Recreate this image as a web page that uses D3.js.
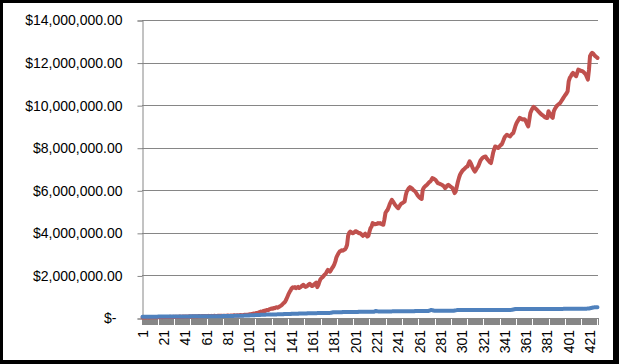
<!DOCTYPE html>
<html>
<head>
<meta charset="utf-8">
<script src="https://cdn.jsdelivr.net/npm/d3@7"></script>
<style>
    html, body { margin: 0; padding: 0; background: #000; }
    svg { display: block; }
</style>
</head>
<body>
<div id="visualization"></div>
<script>
// Categories 1..428
const categories = d3.range(1, 429);

// Red series, in millions of dollars
const redMillions = [
    0.02,0.02,0.03,0.02,0.03,0.03,0.02,0.03,0.04,0.03,
    0.03,0.04,0.03,0.04,0.04,0.03,0.04,0.05,0.04,0.04,
    0.05,0.04,0.05,0.05,0.04,0.05,0.06,0.05,0.05,0.06,
    0.05,0.06,0.06,0.05,0.06,0.07,0.06,0.06,0.07,0.06,
    0.07,0.07,0.06,0.07,0.08,0.07,0.07,0.08,0.07,0.08,
    0.08,0.07,0.08,0.09,0.08,0.08,0.09,0.08,0.09,0.09,
    0.08,0.09,0.10,0.09,0.09,0.10,0.09,0.10,0.10,0.09,
    0.10,0.11,0.10,0.10,0.11,0.10,0.11,0.11,0.10,0.11,
    0.12,0.11,0.11,0.12,0.11,0.12,0.13,0.12,0.12,0.13,
    0.12,0.13,0.14,0.13,0.13,0.14,0.15,0.14,0.15,0.16,
    0.16,0.18,0.17,0.19,0.21,0.20,0.22,0.24,0.23,0.26,
    0.28,0.30,0.29,0.32,0.34,0.33,0.36,0.38,0.37,0.41,
    0.42,0.45,0.43,0.47,0.46,0.49,0.51,0.48,0.52,0.55,
    0.58,0.62,0.68,0.72,0.78,0.88,1.00,1.12,1.22,1.30,
    1.40,1.44,1.42,1.45,1.40,1.43,1.46,1.41,1.44,1.48,
    1.53,1.56,1.50,1.46,1.48,1.52,1.58,1.61,1.55,1.50,
    1.52,1.58,1.62,1.66,1.45,1.55,1.70,1.82,1.88,1.92,
    1.98,2.04,2.08,2.18,2.26,2.22,2.18,2.26,2.35,2.42,
    2.52,2.66,2.85,2.95,3.05,3.12,3.15,3.18,3.16,3.20,
    3.22,3.30,3.44,3.88,4.00,4.06,4.02,3.98,4.00,4.04,
    4.08,4.06,4.02,3.98,3.99,3.95,3.90,3.86,3.92,3.96,
    3.90,3.83,3.86,4.05,4.22,4.30,4.46,4.44,4.40,4.42,
    4.42,4.46,4.44,4.46,4.42,4.40,4.38,4.62,4.93,5.02,
    5.08,5.20,5.35,5.45,5.55,5.48,5.40,5.32,5.26,5.20,
    5.16,5.24,5.32,5.38,5.40,5.44,5.47,5.75,5.94,6.02,
    6.10,6.15,6.12,6.08,6.02,5.98,5.94,5.86,5.78,5.71,
    5.66,5.62,5.59,6.02,6.12,6.18,6.22,6.26,6.32,6.38,
    6.41,6.48,6.57,6.55,6.52,6.49,6.42,6.34,6.32,6.30,
    6.28,6.26,6.22,6.18,6.10,6.16,6.22,6.26,6.22,6.18,
    6.14,6.10,5.98,5.87,5.95,6.18,6.40,6.58,6.73,6.82,
    6.90,6.96,7.00,7.05,7.10,7.12,7.25,7.36,7.28,7.16,
    7.04,6.95,6.88,6.96,7.05,7.12,7.25,7.38,7.46,7.52,
    7.55,7.58,7.59,7.50,7.44,7.38,7.32,7.28,7.50,7.75,
    7.92,8.06,8.04,8.00,7.99,8.06,8.12,8.14,8.25,8.38,
    8.50,8.56,8.61,8.58,8.55,8.53,8.60,8.66,8.69,8.85,
    9.02,9.15,9.24,9.32,9.40,9.38,9.34,9.32,9.34,9.32,
    9.22,9.10,9.00,9.30,9.63,9.75,9.85,9.92,9.88,9.84,
    9.79,9.74,9.68,9.63,9.58,9.54,9.51,9.46,9.42,9.40,
    9.40,9.71,9.62,9.55,9.45,9.40,9.71,9.82,9.90,9.98,
    10.02,10.06,10.10,10.18,10.26,10.34,10.42,10.49,10.56,10.65,
    11.12,11.28,11.36,11.45,11.52,11.46,11.40,11.36,11.52,11.67,
    11.65,11.62,11.60,11.59,11.55,11.50,11.44,11.32,11.20,11.65,
    12.30,12.40,12.46,12.42,12.36,12.30,12.26,12.22
];

// Blue series, in millions of dollars
const blueMillions = [
    0.06,0.06,0.06,0.06,0.06,0.06,0.06,0.06,0.06,0.06,
    0.06,0.06,0.06,0.06,0.06,0.07,0.07,0.07,0.07,0.07,
    0.07,0.07,0.07,0.07,0.07,0.07,0.07,0.07,0.07,0.07,
    0.07,0.07,0.07,0.07,0.07,0.07,0.07,0.07,0.07,0.07,
    0.07,0.07,0.07,0.07,0.07,0.08,0.08,0.08,0.08,0.08,
    0.08,0.08,0.08,0.08,0.08,0.08,0.08,0.08,0.08,0.08,
    0.08,0.08,0.08,0.08,0.08,0.08,0.08,0.08,0.08,0.08,
    0.08,0.08,0.08,0.08,0.08,0.09,0.09,0.09,0.09,0.09,
    0.09,0.09,0.09,0.09,0.09,0.09,0.10,0.10,0.10,0.10,
    0.10,0.10,0.11,0.11,0.11,0.11,0.12,0.12,0.12,0.12,
    0.12,0.13,0.13,0.13,0.13,0.13,0.14,0.14,0.14,0.14,
    0.14,0.15,0.15,0.15,0.15,0.15,0.16,0.16,0.16,0.16,
    0.16,0.16,0.17,0.17,0.17,0.17,0.17,0.18,0.18,0.18,
    0.18,0.18,0.18,0.19,0.19,0.19,0.19,0.19,0.19,0.19,
    0.20,0.20,0.20,0.20,0.20,0.20,0.20,0.21,0.21,0.21,
    0.21,0.21,0.21,0.21,0.21,0.22,0.22,0.22,0.22,0.22,
    0.22,0.22,0.22,0.22,0.23,0.23,0.23,0.23,0.23,0.23,
    0.23,0.23,0.23,0.24,0.24,0.24,0.24,0.25,0.26,0.27,
    0.27,0.27,0.27,0.27,0.27,0.27,0.27,0.27,0.28,0.28,
    0.28,0.28,0.28,0.28,0.28,0.28,0.28,0.28,0.28,0.28,
    0.28,0.28,0.28,0.29,0.29,0.29,0.29,0.29,0.29,0.29,
    0.29,0.29,0.29,0.29,0.29,0.29,0.29,0.29,0.31,0.33,
    0.32,0.31,0.31,0.31,0.31,0.31,0.31,0.31,0.31,0.31,
    0.31,0.31,0.31,0.31,0.31,0.32,0.32,0.32,0.32,0.32,
    0.32,0.32,0.32,0.32,0.32,0.32,0.32,0.32,0.32,0.32,
    0.32,0.32,0.32,0.32,0.32,0.32,0.33,0.33,0.33,0.33,
    0.33,0.33,0.33,0.33,0.33,0.33,0.33,0.33,0.33,0.34,
    0.36,0.38,0.37,0.35,0.34,0.34,0.34,0.34,0.34,0.34,
    0.34,0.34,0.34,0.34,0.34,0.34,0.34,0.34,0.34,0.34,
    0.34,0.34,0.34,0.35,0.36,0.37,0.37,0.37,0.37,0.37,
    0.37,0.37,0.37,0.37,0.37,0.37,0.37,0.37,0.37,0.37,
    0.37,0.37,0.37,0.37,0.37,0.37,0.37,0.37,0.37,0.37,
    0.37,0.37,0.37,0.37,0.37,0.37,0.37,0.38,0.38,0.38,
    0.38,0.38,0.38,0.38,0.38,0.38,0.38,0.38,0.38,0.38,
    0.38,0.38,0.38,0.38,0.38,0.38,0.38,0.39,0.40,0.41,
    0.42,0.42,0.42,0.42,0.42,0.42,0.42,0.42,0.42,0.42,
    0.42,0.42,0.42,0.42,0.42,0.42,0.42,0.42,0.42,0.42,
    0.42,0.42,0.42,0.42,0.42,0.42,0.42,0.42,0.42,0.42,
    0.42,0.42,0.42,0.42,0.42,0.42,0.42,0.42,0.42,0.42,
    0.42,0.42,0.42,0.42,0.42,0.43,0.43,0.43,0.43,0.43,
    0.43,0.43,0.43,0.43,0.43,0.43,0.43,0.43,0.43,0.43,
    0.43,0.43,0.43,0.43,0.43,0.44,0.44,0.44,0.45,0.45,
    0.46,0.47,0.48,0.49,0.50,0.50,0.51,0.51
];

// Tick values
const yTicks = [0, 2e6, 4e6, 6e6, 8e6, 10e6, 12e6, 14e6];
const xLabelTicks = d3.range(1, 429, 20);

function renderLineChart() {
    const width = 619;
    const height = 364;
    const plot = { left: 142, right: 598, top: 20, bottom: 318 };
    const gridColor = "#868686";
    const font = "'Liberation Sans', Arial, sans-serif";

    const xScale = d3.scaleBand()
        .domain(categories)
        .range([plot.left, plot.right]);

    const yScale = d3.scaleLinear()
        .domain([0, 14e6])
        .range([plot.bottom, plot.top]);

    const svg = d3.select("#visualization")
        .append("svg")
        .attr("width", width)
        .attr("height", height);

    // White chart area inside the black frame
    svg.append("rect")
        .attr("x", 3).attr("y", 3)
        .attr("width", 610).attr("height", 357)
        .attr("fill", "#fff");

    // Gridlines
    svg.append("g")
        .selectAll("line")
        .data(yTicks.filter(d => d > 0))
        .enter()
        .append("line")
        .attr("x1", plot.left).attr("x2", plot.right)
        .attr("y1", d => Math.round(yScale(d)) + 0.5)
        .attr("y2", d => Math.round(yScale(d)) + 0.5)
        .attr("stroke", gridColor);

    // Y axis
    const fmt = d3.format("$,.2f");
    const yAxis = svg.append("g")
        .attr("transform", `translate(${plot.left + 0.5},0.5)`)
        .call(d3.axisLeft(yScale)
            .tickValues(yTicks)
            .tickSize(5)
            .tickPadding(15)
            .tickFormat(d => d === 0 ? "$-" : fmt(d)));
    yAxis.selectAll("path, line").attr("stroke", gridColor);
    yAxis.selectAll("text")
        .style("font-family", font)
        .style("font-size", "14px")
        .attr("fill", "#000")
        .attr("x", d => d === 0 ? -26 : -20);

    // X axis: one tick per category boundary
    const bw = xScale.bandwidth();
    svg.append("g")
        .selectAll("line")
        .data(d3.range(0, categories.length + 1))
        .enter()
        .append("line")
        .attr("x1", i => plot.left + i * bw)
        .attr("x2", i => plot.left + i * bw)
        .attr("y1", plot.bottom)
        .attr("y2", plot.bottom + 7)
        .attr("stroke", gridColor)
        .attr("shape-rendering", "crispEdges");

    svg.append("line")
        .attr("x1", plot.left).attr("x2", plot.right)
        .attr("y1", plot.bottom + 0.5).attr("y2", plot.bottom + 0.5)
        .attr("stroke", gridColor);

    // X labels rotated
    svg.append("g")
        .selectAll("text")
        .data(xLabelTicks)
        .enter()
        .append("text")
        .attr("transform", d => `translate(${xScale(d) + bw / 2},330) rotate(-90)`)
        .attr("dy", "0.36em")
        .attr("text-anchor", "end")
        .style("font-family", font)
        .style("font-size", "14px")
        .attr("fill", "#000")
        .text(d => d);

    // Lines
    const line = d3.line()
        .x((d, i) => xScale(categories[i]) + bw / 2)
        .y(d => yScale(d * 1e6));

    svg.append("path")
        .datum(redMillions)
        .attr("d", line)
        .attr("fill", "none")
        .attr("stroke", "#C0504D")
        .attr("stroke-width", 4)
        .attr("stroke-linejoin", "round")
        .attr("stroke-linecap", "round");

    svg.append("path")
        .datum(blueMillions)
        .attr("d", line)
        .attr("fill", "none")
        .attr("stroke", "#4F81BD")
        .attr("stroke-width", 4)
        .attr("stroke-linejoin", "round")
        .attr("stroke-linecap", "round");
}

renderLineChart();
</script>
</body>
</html>
